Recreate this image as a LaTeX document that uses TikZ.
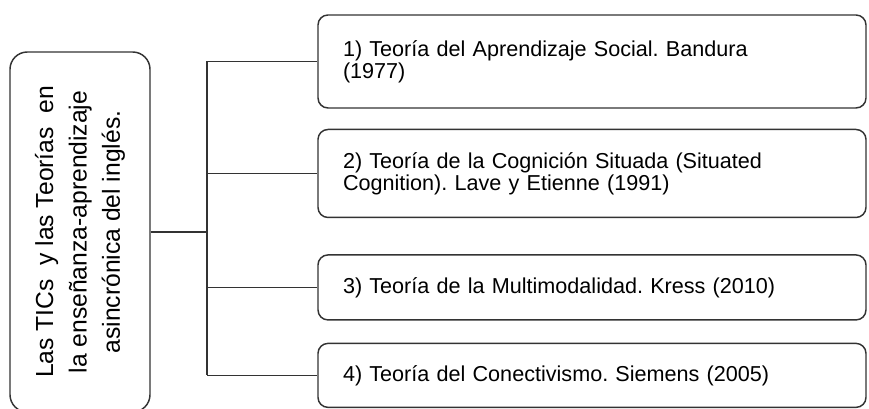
\documentclass[tikz,border=0pt]{standalone}
\usepackage{fontspec}
\setmainfont{Liberation Sans}
\frenchspacing
\usetikzlibrary{positioning}
\tikzstyle{topic} = [rectangle, rounded corners=13pt, rotate=90, minimum width=270pt, minimum height=105pt, align=center, draw=black!80, line width=1.1pt, font=\fontsize{18.5pt}{25pt}\selectfont]
\tikzstyle{theory} = [rectangle, rounded corners=7.5pt, minimum width=411pt, text width=373.5pt, inner xsep=18.75pt, align=left, draw=black!80, line width=1.1pt, font=\fontsize{16.2pt}{16.5pt}\selectfont]
\tikzstyle{link} = [black!80, line width=1.1pt]

\begin{document}
\begin{tikzpicture}[x=0.75pt, y=-0.75pt]
\useasboundingbox (0,0) rectangle (869,409);

\node (root) [topic] at (80,232) {Las TICs~ y las Teorías~ en\\la enseñanza-aprendizaje\\asincrónica del inglés.};

\node (b1) [theory, minimum height=69.75pt] at (592,61.5) {1) Teoría del Aprendizaje Social. Bandura\\(1977)};
\node (b2) [theory, minimum height=66pt, below=15pt of b1] {2) Teoría de la Cognición Situada (Situated\\Cognition). Lave y Etienne (1991)};
\node (b3) [theory, minimum height=48.75pt, below=27pt of b2] {3) Teoría de la Multimodalidad. Kress (2010)};
\node (b4) [theory, minimum height=48pt, below=16.5pt of b3] {4) Teoría del Conectivismo. Siemens (2005)};

\coordinate (hub) at (207,232);

\draw [link] (root) -- (hub);
\draw [link] (hub |- b1.west) -- (hub |- b4.west);
\foreach \b in {b1,b2,b3,b4}
  \draw [link] (hub |- \b.west) -- (\b.west);
\end{tikzpicture}
\end{document}
